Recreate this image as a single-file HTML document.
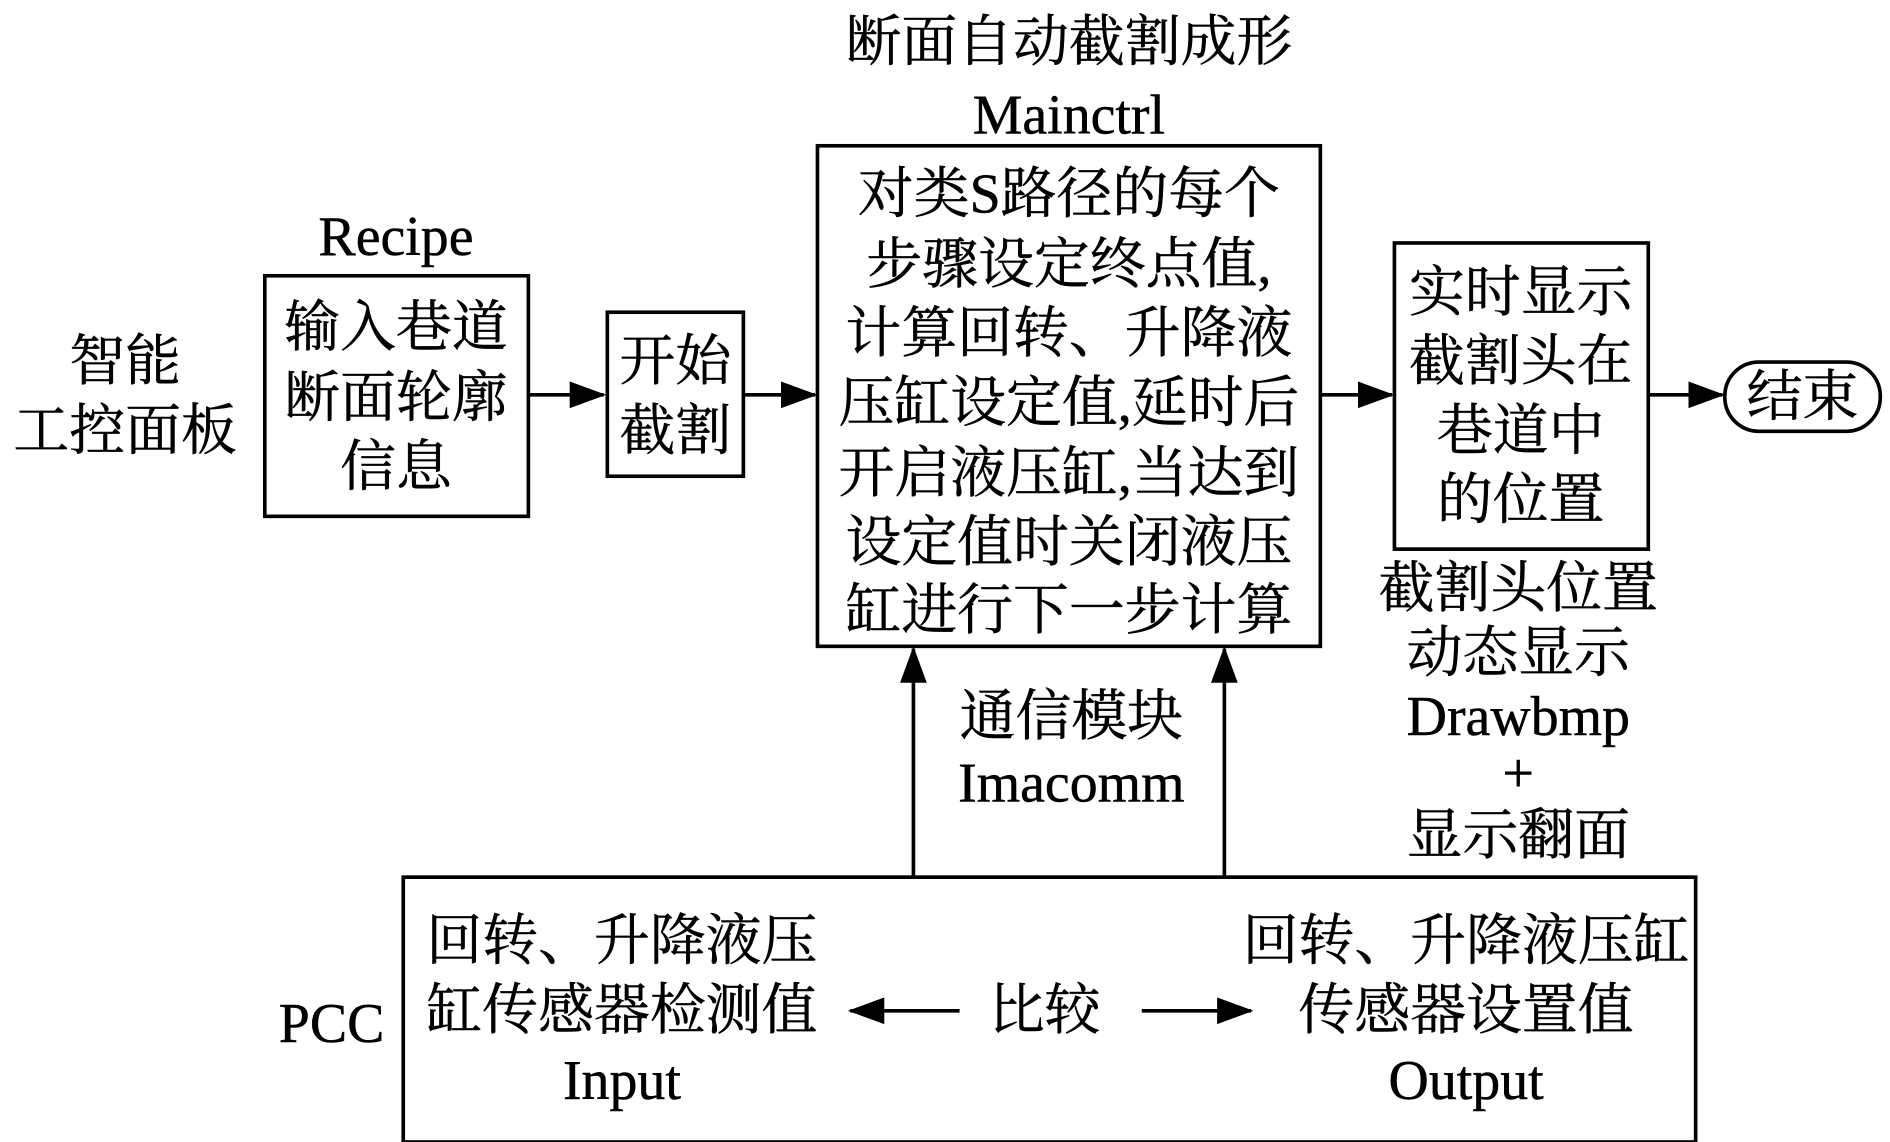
<!DOCTYPE html>
<html><head><meta charset="utf-8"><style>
html,body{margin:0;padding:0;background:#fff;}
svg{display:block;}
text{font-family:"Liberation Serif","Noto Serif CJK SC",serif;fill:#000;stroke:#000;stroke-width:0.4;text-anchor:middle;dominant-baseline:central;}
</style></head><body>
<svg width="1890" height="1142" viewBox="0 0 1556 940" preserveAspectRatio="none" xmlns="http://www.w3.org/2000/svg">
<defs><marker id="b" markerWidth="30" markerHeight="22" refX="28" refY="11" orient="auto" markerUnits="userSpaceOnUse"><path d="M0,0 L30,11 L0,22Z"/></marker></defs>
<g fill="none" stroke="#000" stroke-width="3">
<rect x="218" y="227" width="217" height="198"/>
<rect x="500" y="257" width="112" height="135"/>
<rect x="673" y="120" width="414" height="412"/>
<rect x="1148" y="200" width="209" height="252"/>
<rect x="1420" y="298" width="128" height="57" rx="28"/>
<rect x="332" y="722" width="1064" height="218"/>
<line x1="435" y1="325" x2="497" y2="325" marker-end="url(#b)"/>
<line x1="612" y1="325" x2="671" y2="325" marker-end="url(#b)"/>
<line x1="1087" y1="325" x2="1146" y2="325" marker-end="url(#b)"/>
<line x1="1357" y1="325" x2="1418" y2="325" marker-end="url(#b)"/>
<line x1="752" y1="722" x2="752" y2="534" marker-end="url(#b)"/>
<line x1="1008" y1="722" x2="1008" y2="534" marker-end="url(#b)"/>
<line x1="790" y1="832" x2="700" y2="832" marker-end="url(#b)"/>
<line x1="940" y1="832" x2="1030" y2="832" marker-end="url(#b)"/>
</g>
<g font-size="46">
<text x="103" y="298">智能</text><text x="103" y="355">工控面板</text>
<text x="326" y="195">Recipe</text>
<text x="326" y="270">输入巷道</text><text x="326" y="328">断面轮廓</text><text x="326" y="385">信息</text>
<text x="556" y="298">开始</text><text x="556" y="355">截割</text>
<text x="880" y="35">断面自动截割成形</text><text x="880" y="95">Mainctrl</text>
<text x="880" y="160">对类S路径的每个</text>
<text x="880" y="218">步骤设定终点值,</text>
<text x="880" y="275">计算回转、升降液</text>
<text x="880" y="332">压缸设定值,延时后</text>
<text x="880" y="390">开启液压缸,当达到</text>
<text x="880" y="447">设定值时关闭液压</text>
<text x="880" y="503">缸进行下一步计算</text>
<text x="1252" y="241">实时显示</text><text x="1252" y="298">截割头在</text><text x="1252" y="355">巷道中</text><text x="1252" y="412">的位置</text>
<text x="1484" y="327">结束</text>
<text x="1250" y="485">截割头位置</text><text x="1250" y="538">动态显示</text><text x="1250" y="590">Drawbmp</text><text x="1250" y="637">+</text><text x="1250" y="688">显示翻面</text>
<text x="882" y="590">通信模块</text><text x="882" y="645">Imacomm</text>
<text x="273" y="843">PCC</text>
<text x="512" y="775">回转、升降液压</text><text x="512" y="832">缸传感器检测值</text><text x="512" y="890">Input</text>
<text x="860" y="832">比较</text>
<text x="1207" y="775">回转、升降液压缸</text><text x="1207" y="832">传感器设置值</text><text x="1207" y="890">Output</text>
</g>
</svg>
</body></html>
